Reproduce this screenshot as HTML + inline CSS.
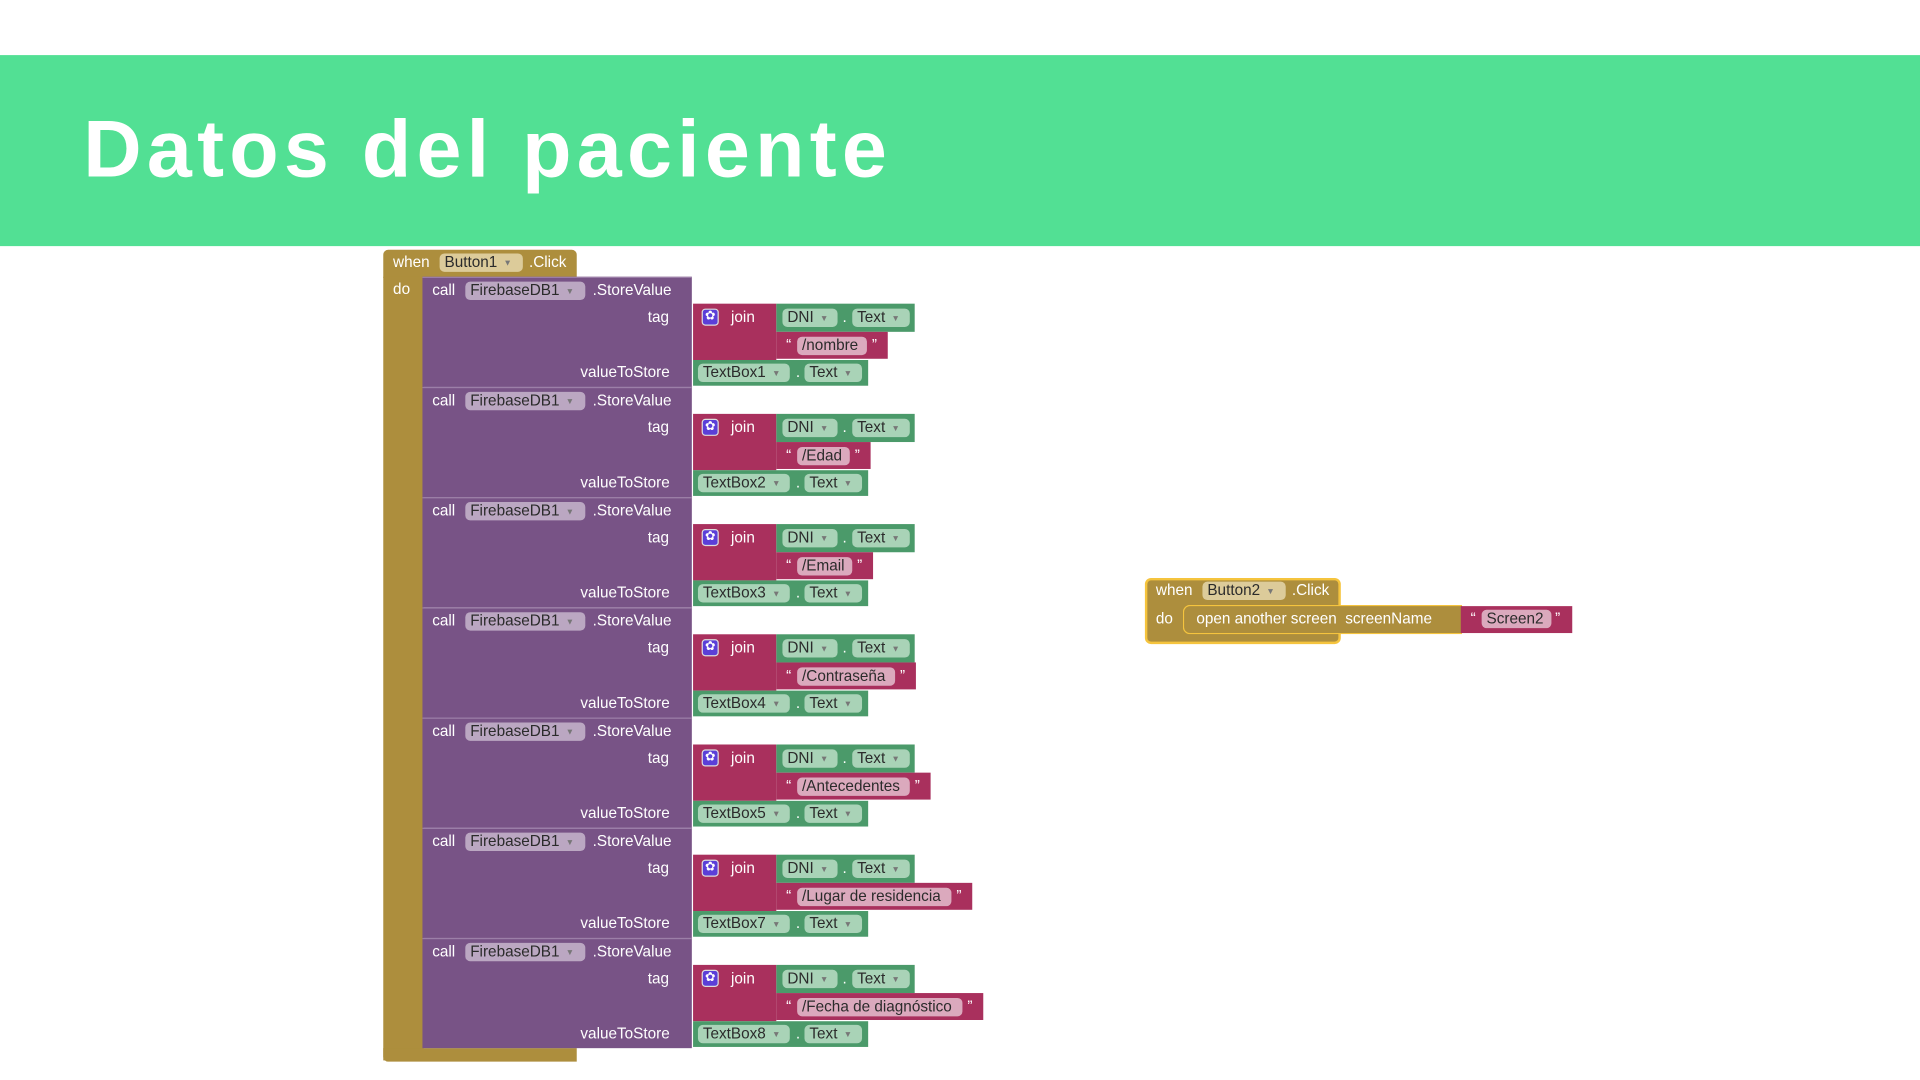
<!DOCTYPE html>
<html><head><meta charset="utf-8">
<style>
html,body{margin:0;padding:0;background:#fff;width:1920px;height:1080px;overflow:hidden}
#s{position:absolute;left:0;top:0;width:1568px;height:882px;transform:scale(1.2244898);transform-origin:0 0;font-family:"Liberation Sans",Arial,sans-serif;font-size:12.5px;color:#fff}
.a{position:absolute}
.band{left:0;top:45px;width:1568px;height:156px;background:#52E094}
.title{left:68px;top:83px;font-size:66px;font-weight:bold;letter-spacing:4.3px;color:#fff}
.gold{background:#AD8E3D}
.pur{background:#785386;border-top:1px solid #9c7fa8;box-sizing:border-box}
.mag{background:#A9305D}
.grn{background:#4B9A6A}
.t{position:absolute;white-space:nowrap;line-height:15px}
.pill{position:absolute;height:15px;line-height:15px;border-radius:4px;color:#2b2b2b;padding:0 4px;box-sizing:border-box;white-space:nowrap}
.pp{background:#bba7c2}
.pg{background:#a9d3b7}
.pm{background:#dba9bd}
.py{background:#dccb9a}
.ar{font-size:7px;color:#777;margin-left:5px;vertical-align:1px}
.gear{position:absolute;width:14px;height:14px;border-radius:3px;background:#5b3fd8;border:1px solid #ddd;box-sizing:border-box;color:#fff;font-size:10px;line-height:12px;text-align:center}
</style></head><body><div id="s">
<div class="a band"></div>
<div class="a title">Datos del paciente</div>

<div class="a gold" style="left:313px;top:204px;width:158px;height:23px;border-radius:4px 4px 0 0"></div>
<div class="a gold" style="left:313px;top:226px;width:33px;height:640px"></div>
<div class="a gold" style="left:313px;top:856px;width:158px;height:11px;border-radius:0 0 0 4px"></div>
<div class="t" style="left:321px;top:207px">when</div>
<div class="pill py" style="left:359px;top:207px;width:68px">Button1<span class="ar">▼</span></div>
<div class="t" style="left:432px;top:207px">.Click</div>
<div class="t" style="left:321px;top:229px">do</div>

<div id="blocks"></div>

<div class="a gold" style="left:935px;top:472px;width:160px;height:54px;border:2px solid #F5C43E;box-sizing:border-box;border-radius:5px"></div>
<div class="t" style="left:944px;top:475px">when</div>
<div class="pill py" style="left:982px;top:475px;width:68px">Button2<span class="ar">▼</span></div>
<div class="t" style="left:1055px;top:475px">.Click</div>
<div class="t" style="left:944px;top:498px">do</div>
<div class="a gold" style="left:966px;top:494px;width:228px;height:24px;border:1.5px solid #F5C43E;border-right:none;border-radius:6px 0 0 6px;box-sizing:border-box"></div>
<div class="t" style="left:977px;top:498px">open another screen&nbsp; screenName</div>
<div class="a mag" style="left:1193px;top:495px;width:91px;height:22px"></div>
<div class="t" style="left:1201px;top:498px">“</div>
<div class="pill pm" style="left:1210px;top:498px;width:57px">Screen2</div>
<div class="t" style="left:1270px;top:498px">”</div>
</div>
<script>
var L=["nombre","Edad","Email","Contraseña","Antecedentes","Lugar de residencia","Fecha de diagnóstico"];
var E=[725,711,713,748,760,794,803];
var B=["1","2","3","4","5","7","8"];
var h="";
for(var i=0;i<7;i++){var t=226+i*90;
h+='<div class="a pur" style="left:345px;top:'+t+'px;width:220px;height:90px"></div>';
h+='<div class="t" style="left:353px;top:'+(t+4)+'px">call</div>';
h+='<div class="pill pp" style="left:380px;top:'+(t+4)+'px;width:98px">FirebaseDB1<span class="ar">▼</span></div>';
h+='<div class="t" style="left:484px;top:'+(t+4)+'px">.StoreValue</div>';
h+='<div class="t" style="left:529px;top:'+(t+26)+'px">tag</div>';
h+='<div class="t" style="left:474px;top:'+(t+71)+'px">valueToStore</div>';
h+='<div class="a mag" style="left:566px;top:'+(t+22)+'px;width:68px;height:46px"></div>';
h+='<div class="gear" style="left:573px;top:'+(t+26)+'px">✿</div>';
h+='<div class="t" style="left:597px;top:'+(t+26)+'px">join</div>';
h+='<div class="a grn" style="left:634px;top:'+(t+22)+'px;width:113px;height:23px"></div>';
h+='<div class="pill pg" style="left:639px;top:'+(t+26)+'px;width:45px">DNI<span class="ar">▼</span></div>';
h+='<div class="t" style="left:688px;top:'+(t+26)+'px">.</div>';
h+='<div class="pill pg" style="left:696px;top:'+(t+26)+'px;width:47px">Text<span class="ar">▼</span></div>';
h+='<div class="a mag" style="left:634px;top:'+(t+45)+'px;width:'+(E[i]-634)+'px;height:22px"></div>';
h+='<div class="t" style="left:642px;top:'+(t+49)+'px">“</div>';
h+='<div class="pill pm" style="left:651px;top:'+(t+49)+'px;width:'+(E[i]-651-17)+'px">/'+L[i]+'</div>';
h+='<div class="t" style="left:'+(E[i]-13)+'px;top:'+(t+49)+'px">”</div>';
h+='<div class="a grn" style="left:566px;top:'+(t+68)+'px;width:143px;height:21px"></div>';
h+='<div class="pill pg" style="left:570px;top:'+(t+71)+'px;width:75px">TextBox'+B[i]+'<span class="ar">▼</span></div>';
h+='<div class="t" style="left:650px;top:'+(t+71)+'px">.</div>';
h+='<div class="pill pg" style="left:657px;top:'+(t+71)+'px;width:47px">Text<span class="ar">▼</span></div>';
}
document.getElementById("blocks").outerHTML=h;
</script>
</body></html>
